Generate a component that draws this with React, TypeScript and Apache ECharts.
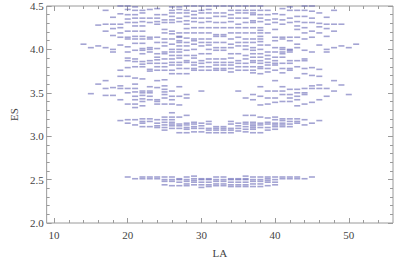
import React, { useEffect, useRef } from "react";
import * as echarts from "echarts";

// LA column values and ES values per column
const col14 = [4.06];
const col15 = [4.02, 3.49];
const col16 = [4.28, 4.04, 3.6];
const col17 = [4.45, 4.29, 4.21, 4.02, 3.64, 3.55, 3.47];
const col18 = [4.37, 4.29, 4.24, 4.16, 4.0, 3.97, 3.56, 3.47];
const col19 = [4.5, 4.41, 4.29, 4.25, 4.19, 4.14, 4.05, 3.76, 3.69, 3.58, 3.55, 3.42, 3.18];
const col20 = [4.5, 4.46, 4.4, 4.35, 4.31, 4.21, 4.14, 4.12, 4.03, 3.97, 3.9, 3.87, 3.79, 3.69, 3.55, 3.5, 3.37, 3.19, 3.15, 2.53];
const col21 = [4.49, 4.45, 4.4, 4.36, 4.31, 4.27, 4.21, 4.15, 4.12, 4.07, 3.99, 3.89, 3.86, 3.8, 3.67, 3.6, 3.55, 3.51, 3.46, 3.42, 3.37, 3.33, 3.19, 3.13, 2.51];
const col22 = [4.45, 4.42, 4.36, 4.32, 4.27, 4.21, 4.15, 4.12, 4.07, 4.01, 3.99, 3.95, 3.86, 3.83, 3.8, 3.66, 3.52, 3.5, 3.47, 3.43, 3.4, 3.35, 3.2, 3.17, 3.15, 3.11, 2.53, 2.51];
const col23 = [4.46, 4.36, 4.31, 4.14, 4.12, 4.02, 4.0, 3.97, 3.87, 3.84, 3.77, 3.75, 3.57, 3.52, 3.5, 3.46, 3.42, 3.2, 3.17, 3.11, 2.53, 2.51];
const col24 = [4.47, 4.4, 4.36, 4.32, 4.29, 4.14, 4.08, 4.01, 3.95, 3.91, 3.88, 3.84, 3.8, 3.76, 3.64, 3.56, 3.42, 3.4, 3.37, 3.19, 3.15, 3.12, 3.1, 2.53, 2.51];
const col25 = [4.4, 4.34, 4.31, 4.23, 4.19, 4.12, 4.08, 4.04, 3.97, 3.95, 3.89, 3.84, 3.8, 3.76, 3.65, 3.58, 3.54, 3.51, 3.48, 3.44, 3.37, 3.22, 3.19, 3.16, 3.13, 3.1, 3.07, 2.53, 2.5, 2.48, 2.44];
const col26 = [4.49, 4.45, 4.42, 4.38, 4.34, 4.31, 4.21, 4.18, 4.12, 4.06, 4.0, 3.97, 3.93, 3.89, 3.85, 3.82, 3.76, 3.72, 3.52, 3.46, 3.42, 3.37, 3.27, 3.22, 3.19, 3.16, 3.14, 3.12, 3.09, 2.53, 2.5, 2.48, 2.43];
const col27 = [4.49, 4.46, 4.42, 4.36, 4.32, 4.19, 4.15, 4.14, 4.1, 4.08, 4.04, 4.0, 3.97, 3.93, 3.9, 3.85, 3.82, 3.78, 3.72, 3.57, 3.46, 3.36, 3.22, 3.14, 3.12, 3.09, 3.04, 2.51, 2.5, 2.47, 2.43];
const col28 = [4.5, 4.45, 4.42, 4.38, 4.33, 4.29, 4.24, 4.19, 4.13, 4.08, 4.04, 3.99, 3.93, 3.87, 3.85, 3.78, 3.72, 3.48, 3.44, 3.24, 3.15, 3.13, 3.1, 3.08, 3.04, 2.53, 2.5, 2.48, 2.45, 2.43];
const col29 = [4.5, 4.44, 4.4, 4.36, 4.32, 4.25, 4.19, 4.12, 4.1, 4.06, 4.0, 3.93, 3.9, 3.85, 3.82, 3.78, 3.76, 3.16, 3.14, 3.11, 3.09, 3.05, 2.54, 2.51, 2.49, 2.47, 2.44];
const col30 = [4.5, 4.45, 4.42, 4.36, 4.31, 4.25, 4.19, 4.12, 4.08, 4.04, 3.95, 3.87, 3.84, 3.8, 3.76, 3.52, 3.15, 3.12, 3.09, 3.05, 2.51, 2.5, 2.47, 2.44, 2.41];
const col31 = [4.5, 4.46, 4.42, 4.36, 4.32, 4.25, 4.19, 4.12, 4.08, 4.05, 4.0, 3.95, 3.89, 3.85, 3.8, 3.76, 3.17, 3.14, 3.09, 3.07, 3.04, 2.51, 2.5, 2.47, 2.44, 2.42];
const col32 = [4.5, 4.42, 4.38, 4.31, 4.25, 4.17, 4.15, 4.08, 4.02, 3.99, 3.89, 3.85, 3.82, 3.78, 3.76, 3.11, 3.09, 3.07, 3.04, 2.53, 2.5, 2.48, 2.45, 2.43];
const col33 = [4.5, 4.42, 4.38, 4.31, 4.25, 4.17, 4.15, 4.08, 4.02, 3.99, 3.89, 3.85, 3.82, 3.78, 3.76, 3.11, 3.09, 3.07, 3.04, 2.53, 2.5, 2.48, 2.45, 2.43];
const col34 = [4.5, 4.45, 4.4, 4.36, 4.32, 4.25, 4.19, 4.12, 4.06, 4.02, 3.95, 3.9, 3.85, 3.82, 3.78, 3.74, 3.17, 3.14, 3.09, 3.07, 3.04, 2.51, 2.5, 2.47, 2.44, 2.42];
const col35 = [4.5, 4.45, 4.42, 4.36, 4.29, 4.25, 4.19, 4.14, 4.08, 4.04, 3.95, 3.87, 3.84, 3.8, 3.76, 3.52, 3.15, 3.12, 3.09, 3.06, 2.51, 2.5, 2.47, 2.44, 2.42];
const col36 = [4.5, 4.45, 4.42, 4.36, 4.31, 4.25, 4.19, 4.12, 4.08, 4.04, 4.0, 3.93, 3.89, 3.84, 3.8, 3.76, 3.44, 3.24, 3.16, 3.14, 3.11, 3.08, 3.05, 2.54, 2.51, 2.5, 2.47, 2.44, 2.42];
const col37 = [4.5, 4.45, 4.42, 4.4, 4.33, 4.31, 4.25, 4.19, 4.12, 4.08, 4.02, 3.99, 3.95, 3.91, 3.87, 3.85, 3.8, 3.76, 3.73, 3.48, 3.42, 3.24, 3.16, 3.14, 3.12, 3.1, 3.08, 3.04, 2.53, 2.5, 2.48, 2.45, 2.42];
const col38 = [4.5, 4.45, 4.4, 4.36, 4.32, 4.25, 4.22, 4.19, 4.15, 4.12, 4.09, 4.05, 4.0, 3.95, 3.91, 3.87, 3.84, 3.8, 3.78, 3.72, 3.57, 3.46, 3.36, 3.22, 3.15, 3.13, 3.1, 3.04, 2.53, 2.5, 2.48, 2.45, 2.42];
const col39 = [4.45, 4.4, 4.34, 4.29, 4.19, 4.05, 3.97, 3.93, 3.89, 3.85, 3.82, 3.78, 3.74, 3.52, 3.44, 3.37, 3.21, 3.16, 3.14, 3.1, 3.07, 2.53, 2.51, 2.49, 2.47, 2.43];
const col40 = [4.41, 4.35, 4.31, 4.23, 4.14, 4.1, 4.02, 3.97, 3.91, 3.87, 3.84, 3.82, 3.76, 3.64, 3.52, 3.44, 3.39, 3.22, 3.19, 3.15, 3.13, 3.11, 3.08, 2.53, 2.5, 2.47, 2.44];
const col41 = [4.47, 4.4, 4.34, 4.29, 4.14, 4.12, 4.02, 4.0, 3.97, 3.95, 3.91, 3.84, 3.78, 3.73, 3.57, 3.52, 3.48, 3.4, 3.2, 3.18, 3.15, 3.13, 3.11, 2.53, 2.51];
const col42 = [4.49, 4.45, 4.36, 4.31, 4.14, 4.1, 4.0, 3.99, 3.97, 3.87, 3.84, 3.78, 3.76, 3.54, 3.48, 3.44, 3.4, 3.2, 3.17, 3.14, 3.11, 2.53, 2.51];
const col43 = [4.45, 4.38, 4.32, 4.27, 4.23, 4.14, 4.06, 4.02, 3.87, 3.8, 3.67, 3.54, 3.5, 3.46, 3.42, 3.35, 3.2, 3.17, 3.15, 2.53, 2.51];
const col44 = [4.5, 4.45, 4.38, 4.31, 4.25, 4.19, 4.12, 3.99, 3.89, 3.87, 3.78, 3.72, 3.55, 3.5, 3.48, 3.37, 3.19, 3.13, 2.51];
const col45 = [4.5, 4.44, 4.36, 4.31, 4.21, 4.14, 3.97, 3.79, 3.7, 3.58, 3.55, 3.39, 3.15, 2.53];
const col46 = [4.42, 4.3, 4.26, 4.19, 4.05, 3.77, 3.69, 3.59, 3.55, 3.42, 3.18];
const col47 = [4.37, 4.29, 4.24, 4.15, 4.0, 3.97, 3.55, 3.46];
const col48 = [4.45, 4.29, 4.21, 4.02, 3.64, 3.52];
const col49 = [4.29, 4.04, 3.59];
const col50 = [4.02, 3.48];
const col51 = [4.06];

const laValues = [14, 15, 16, 17, 18, 19, 20, 21, 22, 23, 24, 25, 26, 27, 28, 29, 30, 31, 32, 33, 34, 35, 36, 37, 38, 39, 40, 41, 42, 43, 44, 45, 46, 47, 48, 49, 50, 51];
const esColumns = [col14, col15, col16, col17, col18, col19, col20, col21, col22, col23, col24, col25, col26, col27, col28, col29, col30, col31, col32, col33, col34, col35, col36, col37, col38, col39, col40, col41, col42, col43, col44, col45, col46, col47, col48, col49, col50, col51];

const xMajor = [10, 20, 30, 40, 50];
const xMinor = [12, 14, 16, 18, 22, 24, 26, 28, 32, 34, 36, 38, 42, 44, 46, 48, 52, 54];
const yMajor = [2.0, 2.5, 3.0, 3.5, 4.0, 4.5];
const yMinor = [2.1, 2.2, 2.3, 2.4, 2.6, 2.7, 2.8, 2.9, 3.1, 3.2, 3.3, 3.4, 3.6, 3.7, 3.8, 3.9, 4.1, 4.2, 4.3, 4.4];

const FONT = "'Liberation Serif', 'DejaVu Serif', serif";
const FRAME = "#9a9a9a";

export default function App() {
  const ref = useRef<HTMLDivElement>(null);
  useEffect(() => {
    if (!ref.current) return;
    const chart = echarts.init(ref.current, null, { renderer: "svg" });
    const points: number[][] = [];
    laValues.forEach((la, i) => {
      esColumns[i].forEach((es) => points.push([la, es]));
    });
    const mkX = (pos: string, ticks: number[], len: number, labels: boolean, name?: string) => ({
      type: "value",
      min: 9,
      max: 56,
      position: pos,
      gridIndex: 0,
      axisLine: { show: false },
      splitLine: { show: false },
      axisTick: { show: true, inside: true, length: len, customValues: ticks, lineStyle: { color: FRAME, width: 1 } },
      axisLabel: labels
        ? { show: true, customValues: ticks, fontFamily: FONT, fontSize: 11, color: "#444", margin: 6 }
        : { show: false },
      name: name || "",
      nameLocation: "middle",
      nameGap: 24,
      nameTextStyle: { fontFamily: FONT, fontSize: 11, color: "#444" },
    });
    const mkY = (pos: string, ticks: number[], len: number, labels: boolean, name?: string) => ({
      type: "value",
      min: 2.0,
      max: 4.5,
      position: pos,
      gridIndex: 0,
      axisLine: { show: false },
      splitLine: { show: false },
      axisTick: { show: true, inside: true, length: len, customValues: ticks, lineStyle: { color: FRAME, width: 1 } },
      axisLabel: labels
        ? { show: true, customValues: ticks, fontFamily: FONT, fontSize: 11, color: "#444", margin: 3, formatter: (v: number) => v.toFixed(1) }
        : { show: false },
      name: name || "",
      nameLocation: "middle",
      nameRotate: 90,
      nameGap: 24,
      nameTextStyle: { fontFamily: FONT, fontSize: 11, color: "#444" },
    });
    chart.setOption({
      animation: false,
      backgroundColor: "#ffffff",
      grid: { left: 35, right: 2, top: 6, bottom: 35, show: true, borderColor: FRAME, borderWidth: 1, backgroundColor: "transparent" },
      xAxis: [
        mkX("bottom", xMajor, 5, true, "LA"),
        mkX("bottom", xMinor, 3, false),
        mkX("top", xMajor, 5, false),
        mkX("top", xMinor, 3, false),
      ],
      yAxis: [
        mkY("left", yMajor, 5, true, "ES"),
        mkY("left", yMinor, 3, false),
        mkY("right", yMajor, 5, false),
        mkY("right", yMinor, 3, false),
      ],
      series: [
        {
          type: "scatter",
          xAxisIndex: 0,
          yAxisIndex: 0,
          data: points,
          symbol: "rect",
          symbolSize: [6, 1.6],
          itemStyle: { color: "#5a5aae", opacity: 0.55 },
          silent: true,
        },
      ],
    });
    return () => chart.dispose();
  }, []);
  return <div ref={ref} style={{ width: 395, height: 263, position: "absolute", left: 0, top: 0 }} />;
}
